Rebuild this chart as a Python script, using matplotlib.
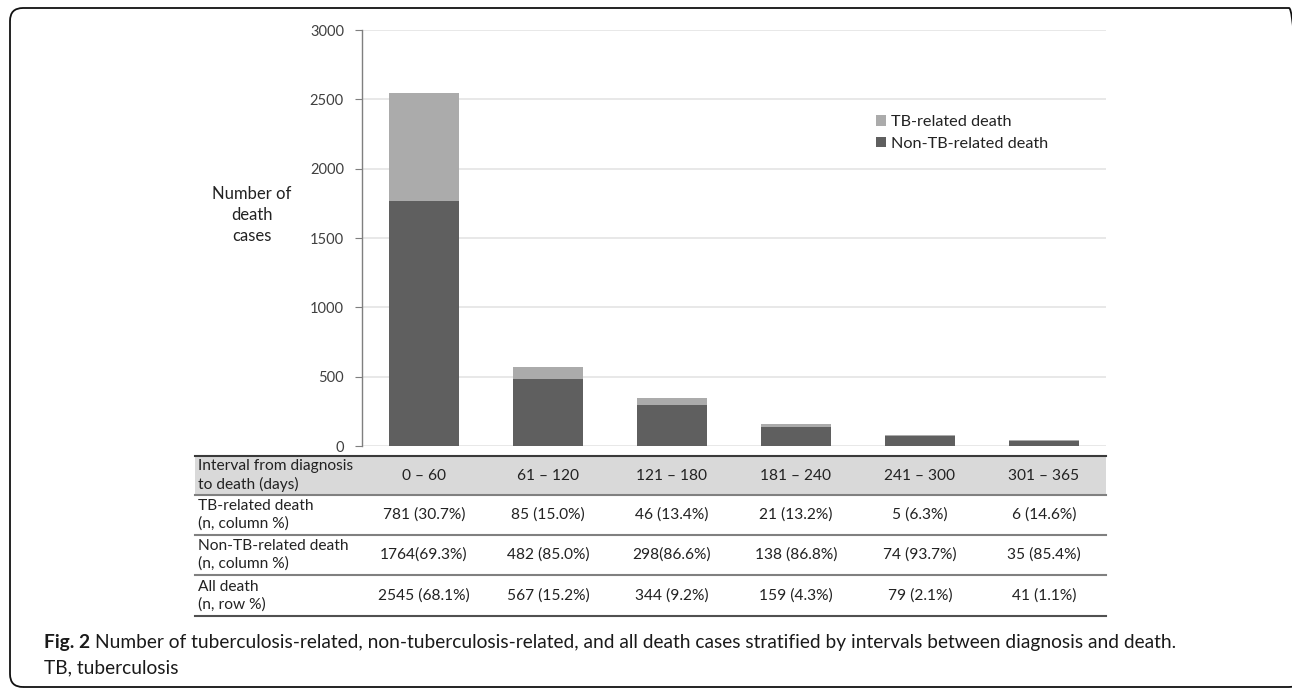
import numpy as np
import matplotlib
matplotlib.use("Agg")
import matplotlib.pyplot as plt
from matplotlib.patches import FancyBboxPatch, Rectangle
from matplotlib.transforms import blended_transform_factory

# data
intervals = ["0 – 60", "61 – 120", "121 – 180", "181 – 240", "241 – 300", "301 – 365"]
tb_death = [781, 85, 46, 21, 5, 6]
non_tb_death = [1764, 482, 298, 138, 74, 35]
tb_labels = ["781 (30.7%)", "85 (15.0%)", "46 (13.4%)", "21 (13.2%)", "5 (6.3%)", "6 (14.6%)"]
non_tb_labels = ["1764(69.3%)", "482 (85.0%)", "298(86.6%)", "138 (86.8%)", "74 (93.7%)", "35 (85.4%)"]
all_labels = ["2545 (68.1%)", "567 (15.2%)", "344 (9.2%)", "159 (4.3%)", "79 (2.1%)", "41 (1.1%)"]
row_names = [
    "Interval from diagnosis\nto death (days)",
    "TB-related death\n(n, column %)",
    "Non-TB-related death\n(n, column %)",
    "All death\n(n, row %)",
]

plt.rcParams["font.family"] = ["Lato", "DejaVu Sans"]

W, H = 1292, 689
fig = plt.figure(figsize=(W / 100, H / 100), dpi=100)


def fx(px):
    return px / W


def fy(py):
    # py measured from top
    return 1 - py / H


ax = fig.add_axes([fx(362), fy(446), fx(1106) - fx(362), fy(30) - fy(446)])
x = np.arange(len(intervals))
c_tb = "#ababab"
c_non = "#5f5f5f"
ax.bar(x, non_tb_death, width=0.565, color=c_non, label="Non-TB-related death", zorder=2)
ax.bar(x, tb_death, width=0.565, bottom=non_tb_death, color=c_tb, label="TB-related death", zorder=2)
ax.set_xlim(-0.5, len(intervals) - 0.5)
ax.set_ylim(0, 3000)
ax.set_yticks(np.arange(0, 3001, 500))
ax.yaxis.grid(True, color="#e4e4e4", linewidth=1.2, zorder=0)
ax.set_xticks([])
for s in ["top", "right", "bottom"]:
    ax.spines[s].set_visible(False)
ax.spines["left"].set_color("#7f7f7f")
ax.spines["left"].set_linewidth(1.0)
ax.tick_params(axis="y", direction="out", length=5, color="#7f7f7f", labelsize=10.5,
               labelcolor="#404040", pad=8)

fig.text(fx(252), fy(215), "Number of\ndeath\ncases", ha="center", va="center",
         fontsize=12, color="#222222", linespacing=1.35)

handles, labels = ax.get_legend_handles_labels()
ax.legend(handles[::-1], labels[::-1], loc="center left",
          bbox_to_anchor=(fx(876), fy(133)), bbox_transform=fig.transFigure,
          frameon=False, fontsize=11.7, handlelength=0.6, handleheight=0.6,
          handletextpad=0.3, labelspacing=0.45, labelcolor="#222222",
          borderpad=0, borderaxespad=0)

# table below the chart
tr = blended_transform_factory(ax.transData, fig.transFigure)
tab_left, tab_right = 195, 1106
row_edges = [456, 495, 535, 575, 616]
fig.patches.append(Rectangle((fx(tab_left), fy(row_edges[1])), fx(tab_right) - fx(tab_left),
                             fy(row_edges[0]) - fy(row_edges[1]), transform=fig.transFigure,
                             facecolor="#d9d9d9", edgecolor="none", zorder=0))
line_cols = ["#3a3a3a", "#808080", "#808080", "#808080", "#505050"]
for yy, lc in zip(row_edges, line_cols):
    fig.add_artist(plt.Line2D([fx(tab_left), fx(tab_right)], [fy(yy), fy(yy)],
                              transform=fig.transFigure, color=lc, linewidth=1.5))

rows = [intervals, tb_labels, non_tb_labels, all_labels]
for i, (name, vals) in enumerate(zip(row_names, rows)):
    yc = (row_edges[i] + row_edges[i + 1]) / 2
    fig.text(fx(198), fy(yc), name, ha="left", va="center", fontsize=11.2,
             color="#222222", linespacing=1.28)
    for j, v in enumerate(vals):
        fig.text(j, fy(yc), v, transform=tr, ha="center", va="center", fontsize=11.2,
                 color="#222222")

# caption
cap_font = ["Lato", "DejaVu Sans"]
cap_size = 13.8
t1 = fig.text(fx(44), fy(648), "Fig. 2", ha="left", va="baseline", fontsize=cap_size,
              fontweight="bold", family=cap_font, color="#1a1a1a")
fig.canvas.draw()
bb = t1.get_window_extent(renderer=fig.canvas.get_renderer())
fig.text(bb.x1 / W + 0.004, fy(648),
         "Number of tuberculosis-related, non-tuberculosis-related, and all death cases "
         "stratified by intervals between diagnosis and death.",
         ha="left", va="baseline", fontsize=cap_size, family=cap_font, color="#1a1a1a")
fig.text(fx(44), fy(673), "TB, tuberculosis", ha="left", va="baseline", fontsize=cap_size,
         family=cap_font, color="#1a1a1a")

# rounded frame
frame = FancyBboxPatch((0.10, 0.02), 12.92, 6.79, boxstyle="round,pad=0,rounding_size=0.13",
                       transform=fig.dpi_scale_trans, facecolor="none", edgecolor="#111111",
                       linewidth=1.3)
fig.patches.append(frame)

fig.savefig("out.png", dpi=100)
